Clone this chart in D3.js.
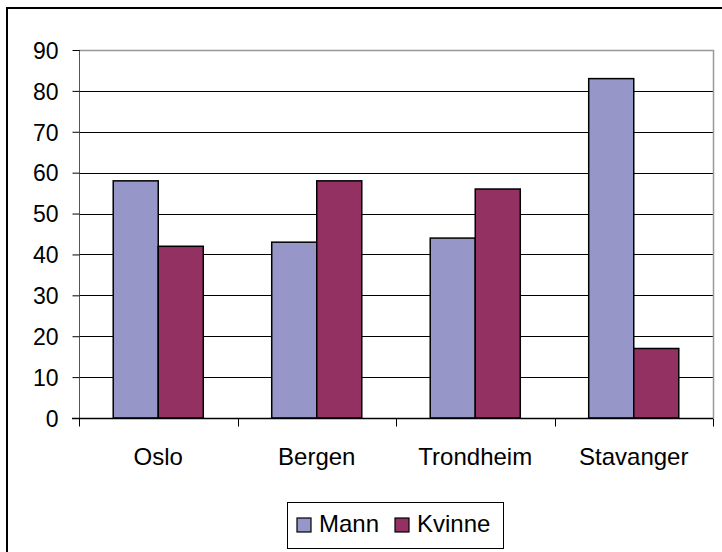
<!DOCTYPE html>
<html>
<head>
<meta charset="utf-8">
<script src="https://cdn.jsdelivr.net/npm/d3@7"></script>
<style>
  body { margin: 0; background: #fff; }
  svg text { font-family: "Liberation Sans", Arial, sans-serif; fill: #000; }
</style>
</head>
<body>
<svg id="chart"></svg>
<script>
var width = 722, height = 552;
var margin = {top: 50, left: 79, right: 9, bottom: 134};

// data
var categories = ['Oslo', 'Bergen', 'Trondheim', 'Stavanger'];
var series = ['Mann', 'Kvinne'];
var mann = [58, 43, 44, 83];
var kvinne = [42, 58, 56, 17];
var yTicks = [0, 10, 20, 30, 40, 50, 60, 70, 80, 90];
var colors = ['#9696c8', '#933162'];

var svg = d3.select('#chart').attr('width', width).attr('height', height);

// outer chart border (only left/top visible in the frame)
svg.append('rect')
  .attr('x', 7).attr('y', 8)
  .attr('width', 760).attr('height', 600)
  .attr('fill', 'none').attr('stroke', '#000').attr('stroke-width', 2);

var x0 = d3.scaleBand().domain(categories)
  .range([margin.left, width - margin.right]);
var x1 = d3.scaleBand().domain(series)
  .range([0, x0.bandwidth()]).paddingOuter(0.76).paddingInner(0);
var y = d3.scaleLinear().domain([0, 90]).range([height - margin.bottom, margin.top]);

var g = svg.append('g');

// gridlines
g.selectAll('.grid').data(yTicks.slice(1, -1)).enter()
  .append('line')
  .attr('x1', margin.left).attr('x2', width - margin.right)
  .attr('y1', function(d){ return Math.round(y(d)) + 0.5; })
  .attr('y2', function(d){ return Math.round(y(d)) + 0.5; })
  .attr('stroke', '#000').attr('stroke-width', 1);

// plot area top and right border (gray)
g.append('path')
  .attr('d', 'M' + margin.left + ',' + (y(90) + 0.5) + 'H' + (width - margin.right + 0.5) + 'V' + y(0))
  .attr('fill', 'none').attr('stroke', '#999').attr('stroke-width', 1.5);

// bars
var rows = categories.map(function(c, i){ return {cat: c, vals: [mann[i], kvinne[i]]}; });
var groups = g.selectAll('.grp').data(rows).enter().append('g')
  .attr('transform', function(d){ return 'translate(' + x0(d.cat) + ',0)'; });
groups.selectAll('rect').data(function(d){
    return d.vals.map(function(v, j){ return {s: series[j], v: v, j: j}; });
  }).enter().append('rect')
  .attr('x', function(d){ return x1(d.s); })
  .attr('y', function(d){ return y(d.v); })
  .attr('width', x1.bandwidth())
  .attr('height', function(d){ return y(0) - y(d.v); })
  .attr('fill', function(d){ return colors[d.j]; })
  .attr('stroke', '#000').attr('stroke-width', 1.5);

// y axis
var yaxis = d3.axisLeft(y).tickValues(yTicks).tickSize(7).tickPadding(14);
var ya = svg.append('g').attr('transform', 'translate(' + (margin.left + 0.5) + ',0)').call(yaxis);
ya.select('.domain').attr('stroke', '#555').attr('d', 'M0,' + y(90) + 'V' + y(0));
ya.selectAll('.tick line').attr('stroke', '#000');
ya.selectAll('text').style('font-size', '23px').attr('dy', '0.36em');

// x axis
var xaxis = d3.axisBottom(x0).tickSize(0);
var xa = svg.append('g').attr('transform', 'translate(0,' + (y(0) + 0.5) + ')').call(xaxis);
xa.select('.domain').attr('stroke', '#000').attr('stroke-width', 1.5)
  .attr('d', 'M' + (margin.left - 7) + ',0H' + (width - margin.right));
xa.selectAll('text').style('font-size', '24px').attr('y', 46).attr('dy', 0);
// category separators
xa.selectAll('.sep').data(categories.concat([null])).enter().append('line')
  .attr('x1', function(d, i){ return Math.round(margin.left + i * x0.bandwidth()) + 0.5; })
  .attr('x2', function(d, i){ return Math.round(margin.left + i * x0.bandwidth()) + 0.5; })
  .attr('y1', 0).attr('y2', 8)
  .attr('stroke', '#000');

// legend
var leg = svg.append('g').attr('transform', 'translate(287,502)');
leg.append('rect').attr('x', 0.5).attr('y', 0.5).attr('width', 216).attr('height', 46)
  .attr('fill', '#fff').attr('stroke', '#000').attr('stroke-width', 1);
var legX = [10, 108];
series.forEach(function(s, i){
  leg.append('rect').attr('x', legX[i]).attr('y', 16).attr('width', 14).attr('height', 14)
    .attr('fill', colors[i]).attr('stroke', '#000').attr('stroke-width', 1.2);
  leg.append('text').attr('x', legX[i] + 22).attr('y', 30)
    .style('font-size', '24px').text(s);
});
</script>
</body>
</html>
